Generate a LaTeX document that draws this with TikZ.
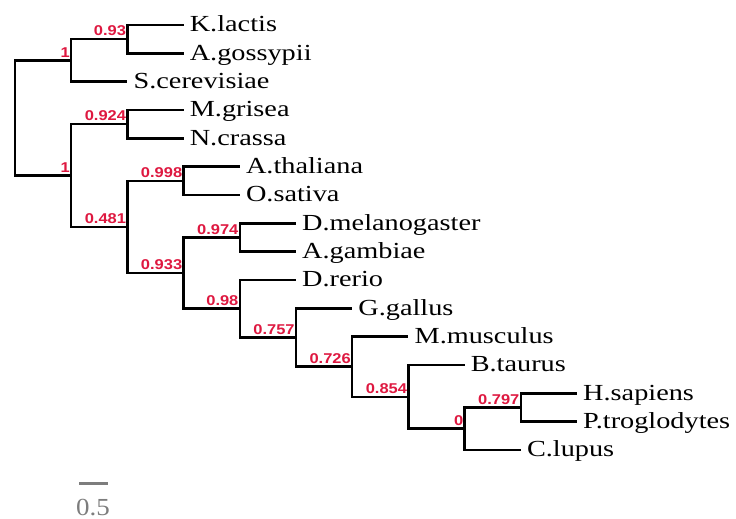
\documentclass[tikz,border=0pt]{standalone}
\usepackage{fontspec}
\setmainfont{Liberation Serif}
\newfontfamily\tipfont[FakeStretch=1.23]{Liberation Serif}
\newfontfamily\scalefont[FakeStretch=1.1]{Liberation Serif}
\newfontfamily\suppfont[FakeStretch=1.16]{Liberation Sans}
\definecolor{suppred}{RGB}{222,24,64}
\definecolor{bargray}{RGB}{125,125,125}
\begin{document}
\begin{tikzpicture}[x=56.2pt,y=-28.33pt,
  branch/.style={line width=2.5pt,line join=miter,black},
  tiplab/.style={anchor=base west,inner sep=0pt,xshift=6pt,yshift=-6.9pt,font=\tipfont\fontsize{23}{26}\selectfont},
  supp/.style={anchor=base east,inner sep=0pt,xshift=-1.2pt,yshift=3.3pt,text=suppred,font=\suppfont\bfseries\fontsize{14.2}{16}\selectfont}]
\useasboundingbox (-0.26690,-0.88246) rectangle (12.8292,17.4373);
% internal nodes
\coordinate (root) at (0,3.2822);
\coordinate (n1a) at (1,1.25);
\coordinate (n093) at (2,0.5);
\coordinate (n1b) at (1,5.3145);
\coordinate (n0924) at (2,3.5);
\coordinate (n0481) at (2,7.1289);
\coordinate (n0998) at (3,5.5);
\coordinate (n0933) at (3,8.7578);
\coordinate (n0974) at (4,7.5);
\coordinate (n098) at (4,10.015625);
\coordinate (n0757) at (5,11.03125);
\coordinate (n0726) at (6,12.0625);
\coordinate (n0854) at (7,13.125);
\coordinate (n0) at (8,14.25);
\coordinate (n0797) at (9,13.5);
% tips
\coordinate (kl) at (3,0);
\coordinate (ag) at (3,1);
\coordinate (sc) at (2,2);
\coordinate (mg) at (3,3);
\coordinate (nc) at (3,4);
\coordinate (at) at (4,5);
\coordinate (os) at (4,6);
\coordinate (dm) at (5,7);
\coordinate (agam) at (5,8);
\coordinate (dr) at (5,9);
\coordinate (gg) at (6,10);
\coordinate (mm) at (7,11);
\coordinate (bt) at (8,12);
\coordinate (hs) at (10,13);
\coordinate (pt) at (10,14);
\coordinate (cl) at (9,15);
% branches
\draw[branch] (root) |- (n1a);
\draw[branch] (root) |- (n1b);
\draw[branch] (n1a) |- (n093);
\draw[branch] (n1a) |- (sc);
\draw[branch] (n093) |- (kl);
\draw[branch] (n093) |- (ag);
\draw[branch] (n1b) |- (n0924);
\draw[branch] (n1b) |- (n0481);
\draw[branch] (n0924) |- (mg);
\draw[branch] (n0924) |- (nc);
\draw[branch] (n0481) |- (n0998);
\draw[branch] (n0481) |- (n0933);
\draw[branch] (n0998) |- (at);
\draw[branch] (n0998) |- (os);
\draw[branch] (n0933) |- (n0974);
\draw[branch] (n0933) |- (n098);
\draw[branch] (n0974) |- (dm);
\draw[branch] (n0974) |- (agam);
\draw[branch] (n098) |- (dr);
\draw[branch] (n098) |- (n0757);
\draw[branch] (n0757) |- (gg);
\draw[branch] (n0757) |- (n0726);
\draw[branch] (n0726) |- (mm);
\draw[branch] (n0726) |- (n0854);
\draw[branch] (n0854) |- (bt);
\draw[branch] (n0854) |- (n0);
\draw[branch] (n0) |- (n0797);
\draw[branch] (n0) |- (cl);
\draw[branch] (n0797) |- (hs);
\draw[branch] (n0797) |- (pt);
% tip labels
\node[tiplab] (kl-l) at (kl) {K.lactis};
\node[tiplab] (ag-l) at (ag) {A.gossypii};
\node[tiplab] (sc-l) at (sc) {S.cerevisiae};
\node[tiplab] (mg-l) at (mg) {M.grisea};
\node[tiplab] (nc-l) at (nc) {N.crassa};
\node[tiplab] (at-l) at (at) {A.thaliana};
\node[tiplab] (os-l) at (os) {O.sativa};
\node[tiplab] (dm-l) at (dm) {D.melanogaster};
\node[tiplab] (agam-l) at (agam) {A.gambiae};
\node[tiplab] (dr-l) at (dr) {D.rerio};
\node[tiplab] (gg-l) at (gg) {G.gallus};
\node[tiplab] (mm-l) at (mm) {M.musculus};
\node[tiplab] (bt-l) at (bt) {B.taurus};
\node[tiplab] (hs-l) at (hs) {H.sapiens};
\node[tiplab] (pt-l) at (pt) {P.troglodytes};
\node[tiplab] (cl-l) at (cl) {C.lupus};
% support values
\node[supp] (s1a) at (n1a) {1};
\node[supp] (s093) at (n093) {0.93};
\node[supp] (s1b) at (n1b) {1};
\node[supp] (s0924) at (n0924) {0.924};
\node[supp] (s0481) at (n0481) {0.481};
\node[supp] (s0998) at (n0998) {0.998};
\node[supp] (s0933) at (n0933) {0.933};
\node[supp] (s0974) at (n0974) {0.974};
\node[supp] (s098) at (n098) {0.98};
\node[supp] (s0757) at (n0757) {0.757};
\node[supp] (s0726) at (n0726) {0.726};
\node[supp] (s0854) at (n0854) {0.854};
\node[supp] (s0) at (n0) {0};
\node[supp] (s0797) at (n0797) {0.797};
% scale bar
\coordinate (sb1) at (1.139,16.178);
\coordinate (sb2) at (1.650,16.178);
\draw[bargray,line width=2.7pt] (sb1) -- (sb2);
\node[anchor=base,inner sep=0pt,text=bargray,font=\scalefont\fontsize{24.5}{28}\selectfont] (sbl) at (1.388,17.30) {0.5};
\end{tikzpicture}
\end{document}
